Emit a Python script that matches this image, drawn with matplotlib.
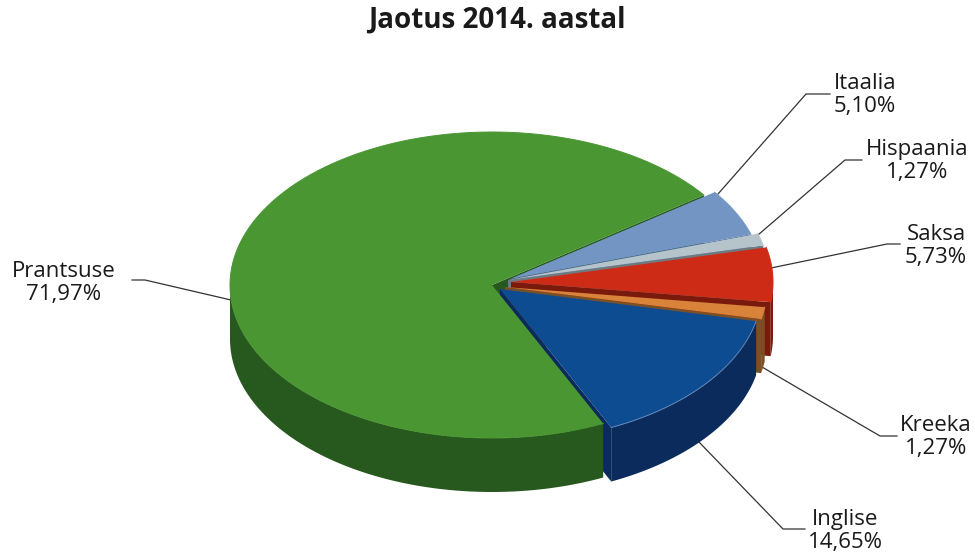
import matplotlib
matplotlib.use("Agg")
import matplotlib.pyplot as plt
import numpy as np

# data
labels = ["Prantsuse", "Itaalia", "Hispaania", "Saksa", "Kreeka", "Inglise"]
shares = [71.97, 5.10, 1.27, 5.73, 1.27, 14.65]
share_labels = ["71,97%", "5,10%", "1,27%", "5,73%", "1,27%", "14,65%"]

# styles per slice
top_colors = ["#4a9632", "#7395c3", "#b5c3cb", "#cd2b16", "#d8823a", "#0e4c92"]
side_colors = ["#27591f", "#3f5f8e", "#6e7a82", "#7a1a0c", "#7d4f24", "#0a2b5c"]
edge_colors = ["#4a9632", "#7395c3", "#b5c3cb", "#cd2b16", "#d8823a", "#5f86b8"]
apex_x = [492, 510, 508, 511, 505, 500]
apex_y = [285, 279, 280, 282, 287, 289]
radius_scale = [1, 0.965, 1, 1, 1, 1]

# pie geometry, in pixels
RX = 262
RY = 153
DEPTH = 54
START = -36.0  # where Itaalia begins, degrees clockwise from east

plt.rcParams["font.family"] = ["Open Sans", "DejaVu Sans"]

fig = plt.figure(figsize=(9.75, 5.57), dpi=100)
ax = fig.add_axes([0, 0, 1, 1])
ax.set_xlim(0, 975)
ax.set_ylim(557, 0)
ax.axis("off")

# angle range of each slice, clockwise, Prantsuse last so it wraps round
spans = np.array(shares) / sum(shares) * 360
ends = START + np.cumsum(spans[1:])
ranges = {}
for i in range(1, len(labels)):
    ranges[i] = (ends[i - 1] - spans[i], ends[i - 1])
ranges[0] = (ends[-1], ends[-1] + spans[0])

z = [1]


def next_z():
    z[0] += 1
    return z[0]


def arc(i, a0, a1):
    t = np.radians(np.linspace(a0, a1, 120))
    r = radius_scale[i]
    return apex_x[i] + r * RX * np.cos(t), apex_y[i] + r * RY * np.sin(t)


def draw_end_wall(i):
    # radial face at the clockwise end of the slice
    x, y = arc(i, ranges[i][1], ranges[i][1])
    ax.fill([apex_x[i], x[0], x[0], apex_x[i]],
            [apex_y[i], y[0], y[0] + DEPTH, apex_y[i] + DEPTH],
            color=side_colors[i], lw=0, zorder=next_z())


def draw_rim(i):
    # only the front half of the rim can be seen
    a0, a1 = ranges[i]
    a0 = max(a0, 0)
    a1 = min(a1, 180)
    if a1 <= a0:
        return
    x, y = arc(i, a0, a1)
    ax.fill(np.r_[x, x[::-1]], np.r_[y, y[::-1] + DEPTH],
            color=side_colors[i], lw=0, zorder=next_z())


def draw_top(i):
    x, y = arc(i, *ranges[i])
    ax.fill(np.r_[apex_x[i], x], np.r_[apex_y[i], y],
            color=top_colors[i], lw=0, zorder=next_z())
    ax.plot(x, y, color=edge_colors[i], lw=0.7, zorder=next_z())


# back to front. all end walls go under the green top
for i in [0, 1, 2, 3, 4, 5]:
    draw_end_wall(i)
draw_rim(0)
draw_top(0)
for i in [1, 2, 3, 4, 5]:
    draw_rim(i)
    draw_top(i)

# leader lines
leaders = [
    ([231, 145, 132], [300, 280, 280]),
    ([718, 806, 830], [194, 94, 94]),
    ([758, 845, 862], [235, 160, 160]),
    ([771, 887, 900], [268, 244, 244]),
    ([762, 880, 897], [367, 436, 436]),
    ([698, 783, 805], [441, 529, 529]),
]
for lx, ly in leaders:
    ax.plot(lx, ly, color="#333333", lw=0.9, zorder=1)

label_x = [64, 865, 917, 936, 936, 845]
label_y = [283, 95, 161, 246, 437, 531]
for i in range(len(labels)):
    ax.text(label_x[i], label_y[i], labels[i] + "\n" + share_labels[i],
            ha="center", va="center", fontsize=16, color="#1a1a1a",
            linespacing=1.13, zorder=100)

ax.text(497, 20, "Jaotus 2014. aastal", ha="center", va="center",
        fontsize=20, fontweight="bold", color="#1a1a1a")

fig.savefig("out.png", dpi=100)
